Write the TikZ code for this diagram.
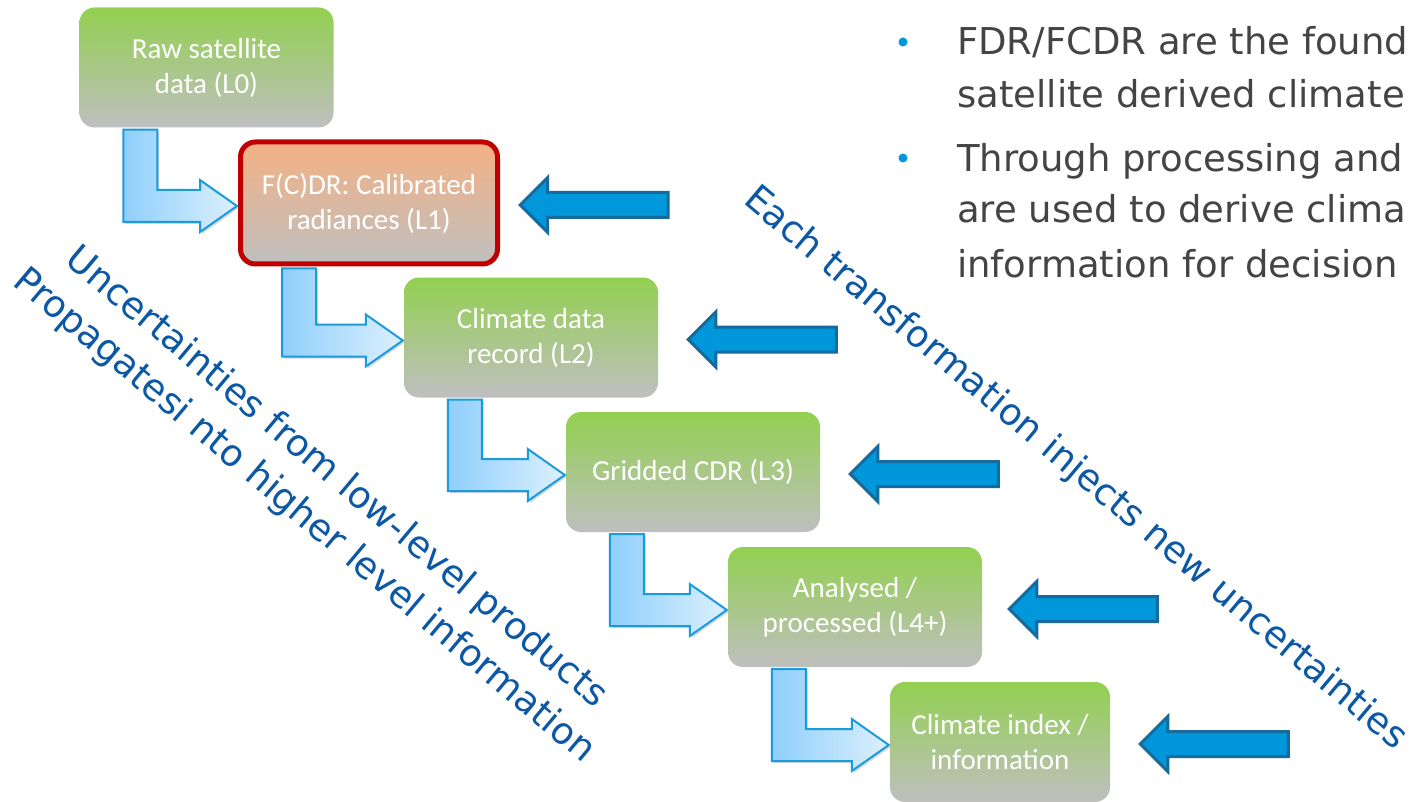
\documentclass[tikz,border=0pt]{standalone}
\usepackage{fontspec}
\setmainfont{Carlito}
\newfontfamily\verdanafont{DejaVu Sans}
\usepackage{tikz}
\usetikzlibrary{shapes.arrows,shadows,calc}
\definecolor{boxgreen}{RGB}{146,208,80}
\definecolor{boxgray}{RGB}{191,191,191}
\definecolor{boxorange}{RGB}{244,177,131}
\definecolor{boxred}{RGB}{192,0,0}
\definecolor{elbowdark}{RGB}{143,207,251}
\definecolor{elbowlight}{RGB}{221,240,253}
\definecolor{elbowline}{RGB}{27,155,219}
\definecolor{arrowfill}{RGB}{0,152,218}
\definecolor{arrowline}{RGB}{22,106,158}
\definecolor{slanttext}{RGB}{12,88,164}
\definecolor{bullettext}{RGB}{68,68,68}
\definecolor{bulletdot}{RGB}{0,151,220}
\tikzset{level box/.style={rounded corners=15pt, top color=boxgreen, bottom color=boxgray,
    minimum width=254pt, minimum height=120pt, inner sep=0pt, text=white, align=center,
    font=\fontsize{29}{35}\selectfont},
  key box/.style={level box, top color=boxorange, draw=boxred, line width=5pt,
    minimum width=257pt, minimum height=122pt},
  elbow/.style={left color=elbowdark, right color=elbowlight, draw=elbowline, line width=2pt,
    drop shadow={shadow xshift=2pt, shadow yshift=-2pt, opacity=.3}},
  back arrow/.style={single arrow, shape border rotate=180, fill=arrowfill, draw=arrowline,
    line width=3pt, minimum height=148pt, inner xsep=0pt, inner ysep=11pt,
    single arrow head extend=15pt},
  slant text/.style={text=slanttext, rotate=-40, align=center,
    font=\verdanafont\fontsize{37}{50}\selectfont},
  bullet line/.style={anchor=base west, inner sep=0pt, text=bullettext,
    font=\verdanafont\fontsize{37}{44}\selectfont}}

\begin{document}
\begin{tikzpicture}[x=1pt,y=-1pt]
\fill[white] (0,0) rectangle (1410,802);
\useasboundingbox (0,0) rectangle (1410,802);

% processing levels
\node[level box] (raw) at (206.5,67.5) {Raw satellite\\data (L0)};
\node[key box] (fcdr) at (369,203) {F(C)DR: Calibrated\\radiances (L1)};
\node[level box] (cdr) at (531,337.5) {Climate data\\record (L2)};
\node[level box] (grid) at (693,472) {Gridded CDR (L3)};
\node[level box] (anal) at (855,607) {Analysed /\\processed (L4+)};
\node[level box, minimum width=220pt] (index) at (1000,742) {Climate index /\\information};

% bent arrows from one level to the next
\foreach \a/\b in {raw/fcdr,fcdr/cdr,cdr/grid,grid/anal,anal/index}
  {
    \path[elbow] let \p1=(\a.south west), \p2=($(\b.west)+(-1,3)$) in
      (\x1+44pt,\y1-2pt) -- (\x1+78pt,\y1-2pt) -- (\x1+78pt,\y2+16pt)
      -- (\x2-37pt,\y2+16pt) -- (\x2-37pt,\y2+26pt) -- (\x2,\y2)
      -- (\x2-37pt,\y2-26pt) -- (\x2-37pt,\y2-16pt) -- (\x1+44pt,\y2-16pt) -- cycle;
  }

% new uncertainties coming in
\foreach \b/\s in {fcdr/18,cdr/28,grid/28,anal/25,index/28}
  \node[back arrow, anchor=tip] (in\b) at ([xshift=\s,yshift=-2pt]\b.east) {};

\node[slant text] (inherit) at (320,497) {Uncertainties from low-level products\\Propagatesi nto higher level information};
\node[slant text] (inject) at (1075,469) {Each transformation injects new uncertainties};

% bullets
\fill[bulletdot] (903,42) circle (4.5);
\fill[bulletdot] (903,158) circle (4.5);
\node[bullet line] (t1) at (957,55) {FDR/FCDR are the found};
\node[bullet line] (t2) at (957,108) {satellite derived climate};
\node[bullet line] (t3) at (957,172) {Through processing and};
\node[bullet line] (t4) at (957,223) {are used to derive clima};
\node[bullet line] (t5) at (957,277) {information for decision};
\end{tikzpicture}
\end{document}
